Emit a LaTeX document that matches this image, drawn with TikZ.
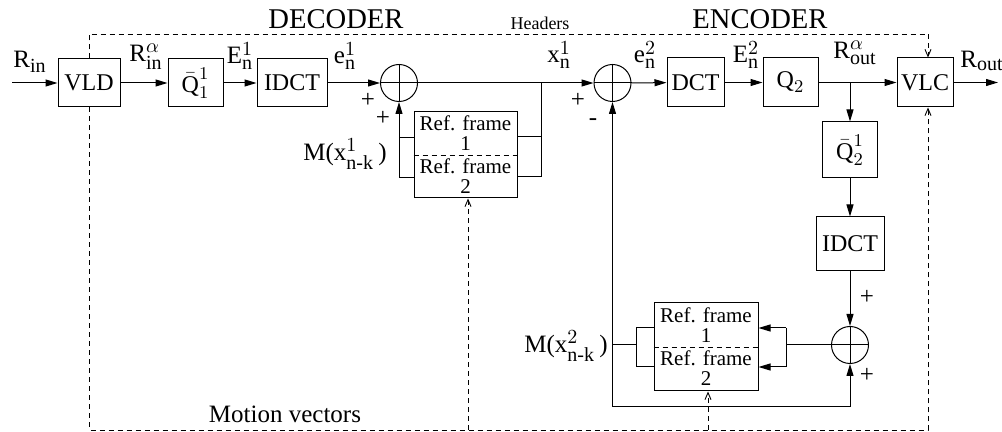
\documentclass[tikz,border=0pt]{standalone}
\usepackage{fontspec}
\setmainfont{Liberation Serif}
\usepackage{amsmath}
\DeclareMathSizes{12.5}{12.5}{10}{8}
\DeclareMathSizes{12}{12}{9.5}{7.5}
\usetikzlibrary{arrows.meta}
\begin{document}
\begin{tikzpicture}[x=0.5pt,y=-0.5pt,
  blk/.style={draw, line width=0.5pt, inner sep=0pt, font=\fontsize{12}{12}\selectfont},
  sumnode/.style={draw, circle, line width=0.5pt, minimum size=18.5pt, inner sep=0pt},
  conn/.style={line width=0.5pt},
  arr/.style={conn, -{Triangle[length=6pt,width=3.5pt]}},
  dsh/.style={line width=0.45pt, dash pattern=on 2.5pt off 2pt},
  darr/.style={dsh, -{Straight Barb[length=3.5pt,width=3pt]}},
  lbl/.style={font=\fontsize{12.5}{13}\selectfont, inner sep=0pt},
  rtxt/.style={font=\fontsize{10.5}{10.5}\selectfont, inner sep=0pt, anchor=base},
  title/.style={font=\fontsize{14.3}{15}\selectfont, inner sep=0pt},
  sign/.style={font=\fontsize{12.5}{13}\selectfont, inner sep=0pt}
]
\useasboundingbox (0,0) rectangle (1002,432);

% ---- blocks ----
\node[blk, minimum width=31pt, minimum height=24pt] (vld) at (89,83) {VLD};
\node[blk, minimum width=27.5pt, minimum height=24pt] (q1) at (195.5,83) {$\bar{\text{Q}}^{1}_{1}$};
\node[blk, minimum width=35pt, minimum height=24pt] (idct1) at (292,83) {IDCT};
\node[sumnode] (add1) at (399,83) {};
\node[blk, minimum width=51.5pt, minimum height=43pt] (ref1) at (465.5,155) {};
\node[sumnode] (add2) at (612.5,83) {};
\node[blk, minimum width=28.5pt, minimum height=24.5pt] (dct) at (695.5,82.5) {DCT};
\node[blk, minimum width=27.5pt, minimum height=24.5pt] (q2) at (790.5,82.5) {$\text{Q}_2$};
\node[blk, minimum width=28pt, minimum height=24.5pt] (vlc) at (925,82.5) {VLC};
\node[blk, minimum width=27.5pt, minimum height=28pt] (q2i) at (850,150) {$\bar{\text{Q}}^{1}_{2}$};
\node[blk, minimum width=34pt, minimum height=27pt] (idct2) at (850,244) {IDCT};
\node[sumnode] (add3) at (850,345) {};
\node[blk, minimum width=52pt, minimum height=44pt] (ref2) at (706,347) {};

% crosses in summing nodes
\foreach \s in {add1,add2,add3}{
  \draw[conn] (\s.north) -- (\s.south);
  \draw[conn] (\s.west) -- (\s.east);
}

% ref frame contents
\draw[dsh] (ref1.west) -- (ref1.east);
\draw[dsh] (ref2.west) -- (ref2.east);
\node[rtxt] (r1a) at (465.5,131) {Ref. frame};
\node[rtxt] (r1an) at (465.5,151) {1};
\node[rtxt] (r1b) at (465.5,174) {Ref. frame};
\node[rtxt] (r1bn) at (465.5,194) {2};
\node[rtxt] (r2a) at (706,323) {Ref. frame};
\node[rtxt] (r2an) at (706,343) {1};
\node[rtxt] (r2b) at (706,366) {Ref. frame};
\node[rtxt] (r2bn) at (706,386) {2};

% ---- decoder connectors ----
\coordinate (rin) at (12,83);
\draw[arr] (rin) -- (vld);
\draw[arr] (vld) -- (q1);
\draw[arr] (q1) -- (idct1);
\draw[arr] (idct1) -- (add1);
\draw[arr] (add1) -- (add2);
\coordinate (j1) at (541,83);
\coordinate (j1m) at (541,137);
\coordinate (j1b) at (541,177);
\draw[conn] (j1) -- (j1b) -- (j1b -| ref1.east);
\draw[conn] (j1m) -- (j1m -| ref1.east);
\coordinate (l1a) at (399,138);
\coordinate (l1b) at (399,178);
\draw[conn] (l1a -| ref1.west) -- (l1a);
\draw[arr] (l1b -| ref1.west) -- (l1b) -- (add1.south);

% ---- encoder connectors ----
\draw[arr] (add2) -- (dct);
\draw[arr] (dct) -- (q2);
\draw[arr] (q2) -- (vlc);
\coordinate (rout) at (998,82.5);
\draw[arr] (vlc) -- (rout);
\coordinate (b2) at (850,82.5);
\draw[arr] (b2) -- (q2i);
\draw[arr] (q2i) -- (idct2);
\draw[arr] (idct2) -- (add3);
\coordinate (j3) at (786,345);
\coordinate (j3a) at (786,328);
\coordinate (j3b) at (786,367);
\draw[conn] (add3) -- (j3);
\draw[conn] (j3a) -- (j3b);
\draw[arr] (j3a) -- (j3a -| ref2.east);
\draw[arr] (j3b) -- (j3b -| ref2.east);
\coordinate (l2a) at (636,328);
\coordinate (l2b) at (636,367);
\coordinate (l2m) at (636,345);
\coordinate (bl) at (612.5,407);
\coordinate (br) at (850,407);
\draw[conn] (l2a -| ref2.west) -- (l2a) -- (l2b) -- (l2b -| ref2.west);
\draw[conn] (l2m) -- (l2m -| bl);
\draw[arr] (bl) -- (add2.south);
\draw[arr] (bl) -- (br) -- (add3.south);

% ---- dashed side information ----
\coordinate (tl) at (89,34);
\coordinate (tr) at (928,34);
\coordinate (bL) at (89,430);
\coordinate (bR) at (928,430);
\draw[darr] (vld.north) -- (tl) -- (tr) -- (tr |- vlc.north);
\draw[darr] (vld.south) -- (bL) -- (bR) -- (bR |- vlc.south);
\coordinate (mv1) at (468,430);
\coordinate (mv2) at (708,430);
\draw[darr] (mv1) -- (mv1 |- ref1.south);
\draw[darr] (mv2) -- (mv2 |- ref2.south);

% ---- labels ----
\node[title] (dec) at (336,19) {DECODER};
\node[title] (enc) at (760,19) {ENCODER};
\node[font=\fontsize{9}{9}\selectfont, inner sep=0pt] (hdr) at (540,23) {Headers};
\node[lbl] (mvt) at (285,414) {Motion vectors};
\node[lbl] (lrin) at (30,62) {$\text{R}_{\text{in}}$};
\node[lbl] (lrina) at (146,57) {$\text{R}^{\alpha}_{\text{in}}$};
\node[lbl] (lE1) at (240,56) {$\text{E}^{1}_{\text{n}}$};
\node[lbl] (le1) at (345,56) {$\text{e}^{1}_{\text{n}}$};
\node[lbl] (lx1) at (559,55) {$\text{x}^{1}_{\text{n}}$};
\node[lbl] (le2) at (645,55) {$\text{e}^{2}_{\text{n}}$};
\node[lbl] (lE2) at (746,55) {$\text{E}^{2}_{\text{n}}$};
\node[lbl] (lrouta) at (855,53) {$\text{R}^{\alpha}_{\text{out}}$};
\node[lbl] (lrout) at (982,61) {$\text{R}_{\text{out}}$};
\node[lbl] (lm1) at (345,154) {M(x$^{1}_{\text{n-k}}$\,)};
\node[lbl] (lm2) at (566,346) {M(x$^{2}_{\text{n-k}}$\,)};
\node[sign] (p1) at (368,100) {+};
\node[sign] (p2) at (383,118) {+};
\node[sign] (p3) at (578,100) {+};
\node[sign] (m3) at (593,122) {-};
\node[sign] (p4) at (867,297) {+};
\node[sign] (p5) at (867,375) {+};
\end{tikzpicture}
\end{document}
